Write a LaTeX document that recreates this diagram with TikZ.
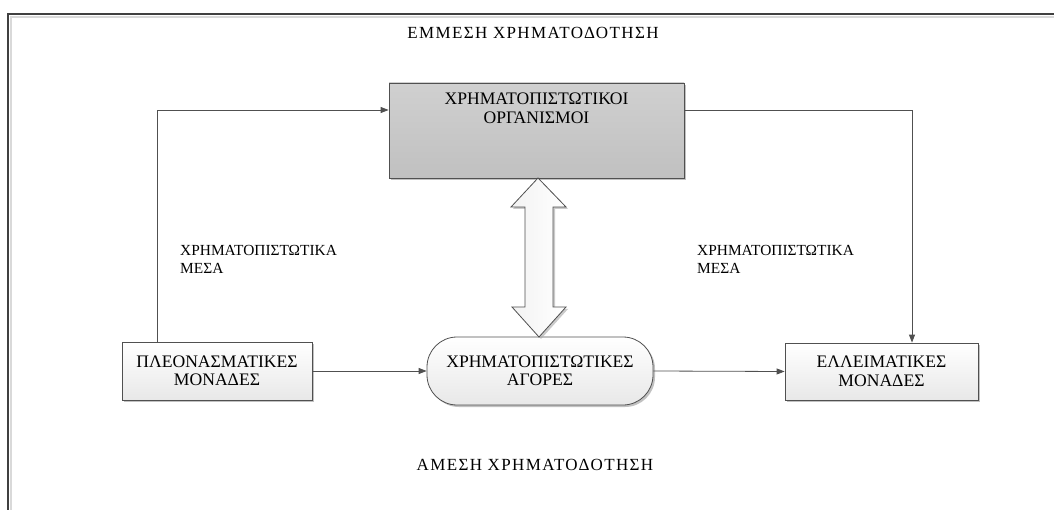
\documentclass[tikz,border=0pt]{standalone}
\usepackage{fontspec}
\setmainfont{Liberation Serif}
\newfontfamily\widefont[LetterSpace=8]{Liberation Serif}
\usetikzlibrary{arrows.meta,shadows,positioning}
\definecolor{frame}{HTML}{404040}
\definecolor{edge}{HTML}{505050}
\definecolor{bigtop}{HTML}{D0D0D0}
\definecolor{bigbot}{HTML}{C0C0C0}
\definecolor{boxtop}{HTML}{FFFFFF}
\definecolor{boxbot}{HTML}{E8E8E8}
\definecolor{shadowc}{HTML}{A8A8A8}
\tikzset{
  unit/.style={draw=edge, line width=0.8pt, top color=boxtop, bottom color=boxbot,
    drop shadow={shadow xshift=2pt, shadow yshift=-2pt, fill=shadowc, opacity=0.7},
    inner sep=0pt, align=center, font=\fontsize{17.6}{18.5}\selectfont},
  bigbox/.style={unit, top color=bigtop, bottom color=bigbot},
  flow/.style={draw=edge, line width=0.8pt, -{Triangle[length=8pt,width=6pt]}},
  lbl/.style={align=left, inner sep=0pt, font=\fontsize{15.4}{18}\selectfont},
  ttl/.style={inner sep=0pt, font=\widefont\fontsize{17}{18}\selectfont}
}
\begin{document}
\begin{tikzpicture}[x=1pt,y=-1pt]
\useasboundingbox (0,0) rectangle (1054,510);
\fill[white] (0,0) rectangle (1054,510);
% outer frame (extends past the right and bottom edges)
\begin{scope}
\clip (0,0) rectangle (1054,510);
\draw[gray!30, line width=2pt] (11,530) -- (11,17) -- (1070,17);
\draw[frame, line width=2.6pt] (8,530) -- (8,14) -- (1070,14);
\end{scope}

\node[bigbox, minimum width=295pt, minimum height=95pt] (fin) at (536.5,130.5) {};
\node[align=center, inner sep=0pt, font=\fontsize{17.6}{18.5}\selectfont, anchor=north] (fintxt) at (536.5,93) {ΧΡΗΜΑΤΟΠΙΣΤΩΤΙΚΟΙ\\ΟΡΓΑΝΙΣΜΟΙ};

\node[unit, minimum width=190pt, minimum height=58pt] (surplus) at (217,371) {ΠΛΕΟΝΑΣΜΑΤΙΚΕΣ\\ΜΟΝΑΔΕΣ};
\node[unit, rounded corners=30pt, minimum width=226pt, minimum height=68pt] (market) at (540,371) {ΧΡΗΜΑΤΟΠΙΣΤΩΤΙΚΕΣ\\ΑΓΟΡΕΣ};
\node[unit, minimum width=193pt, minimum height=57pt] (deficit) at (881.5,371.5) {ΕΛΛΕΙΜΑΤΙΚΕΣ\\ΜΟΝΑΔΕΣ};

% double arrow between institutions and markets
\fill[shadowc, opacity=0.6, shift={(2pt,-2pt)}]
  (538,178) -- (566,207) -- (553,207) -- (553,307) -- (566,307) -- (539,337)
  -- (512,307) -- (525,307) -- (525,207) -- (511,207) -- cycle;
\path[draw=edge, line width=0.8pt, left color=gray!10, right color=white]
  (538,178) -- (566,207) -- (553,207) -- (553,307) -- (566,307) -- (539,337)
  -- (512,307) -- (525,307) -- (525,207) -- (511,207) -- cycle;

% connectors
\coordinate (lc) at (157,110);
\coordinate (rc) at (912,110);
\draw[flow] (surplus.north -| lc) -- (lc) -- (lc -| fin.west);
\draw[flow] (fin.east |- rc) -- (rc) -- (rc |- deficit.north);
\draw[flow] (surplus.east) -- (market.west);
\draw[flow] (market.east) -- (deficit.west);

% labels
\node[ttl] (indirect) at (533,33) {ΕΜΜΕΣΗ ΧΡΗΜΑΤΟΔΟΤΗΣΗ};
\node[ttl] (direct) at (535,465) {ΑΜΕΣΗ ΧΡΗΜΑΤΟΔΟΤΗΣΗ};
\node[lbl, anchor=west] (lmeans) at (180,259) {ΧΡΗΜΑΤΟΠΙΣΤΩΤΙΚΑ\\ΜΕΣΑ};
\node[lbl, anchor=west] (rmeans) at (697,259) {ΧΡΗΜΑΤΟΠΙΣΤΩΤΙΚΑ\\ΜΕΣΑ};
\end{tikzpicture}
\end{document}
